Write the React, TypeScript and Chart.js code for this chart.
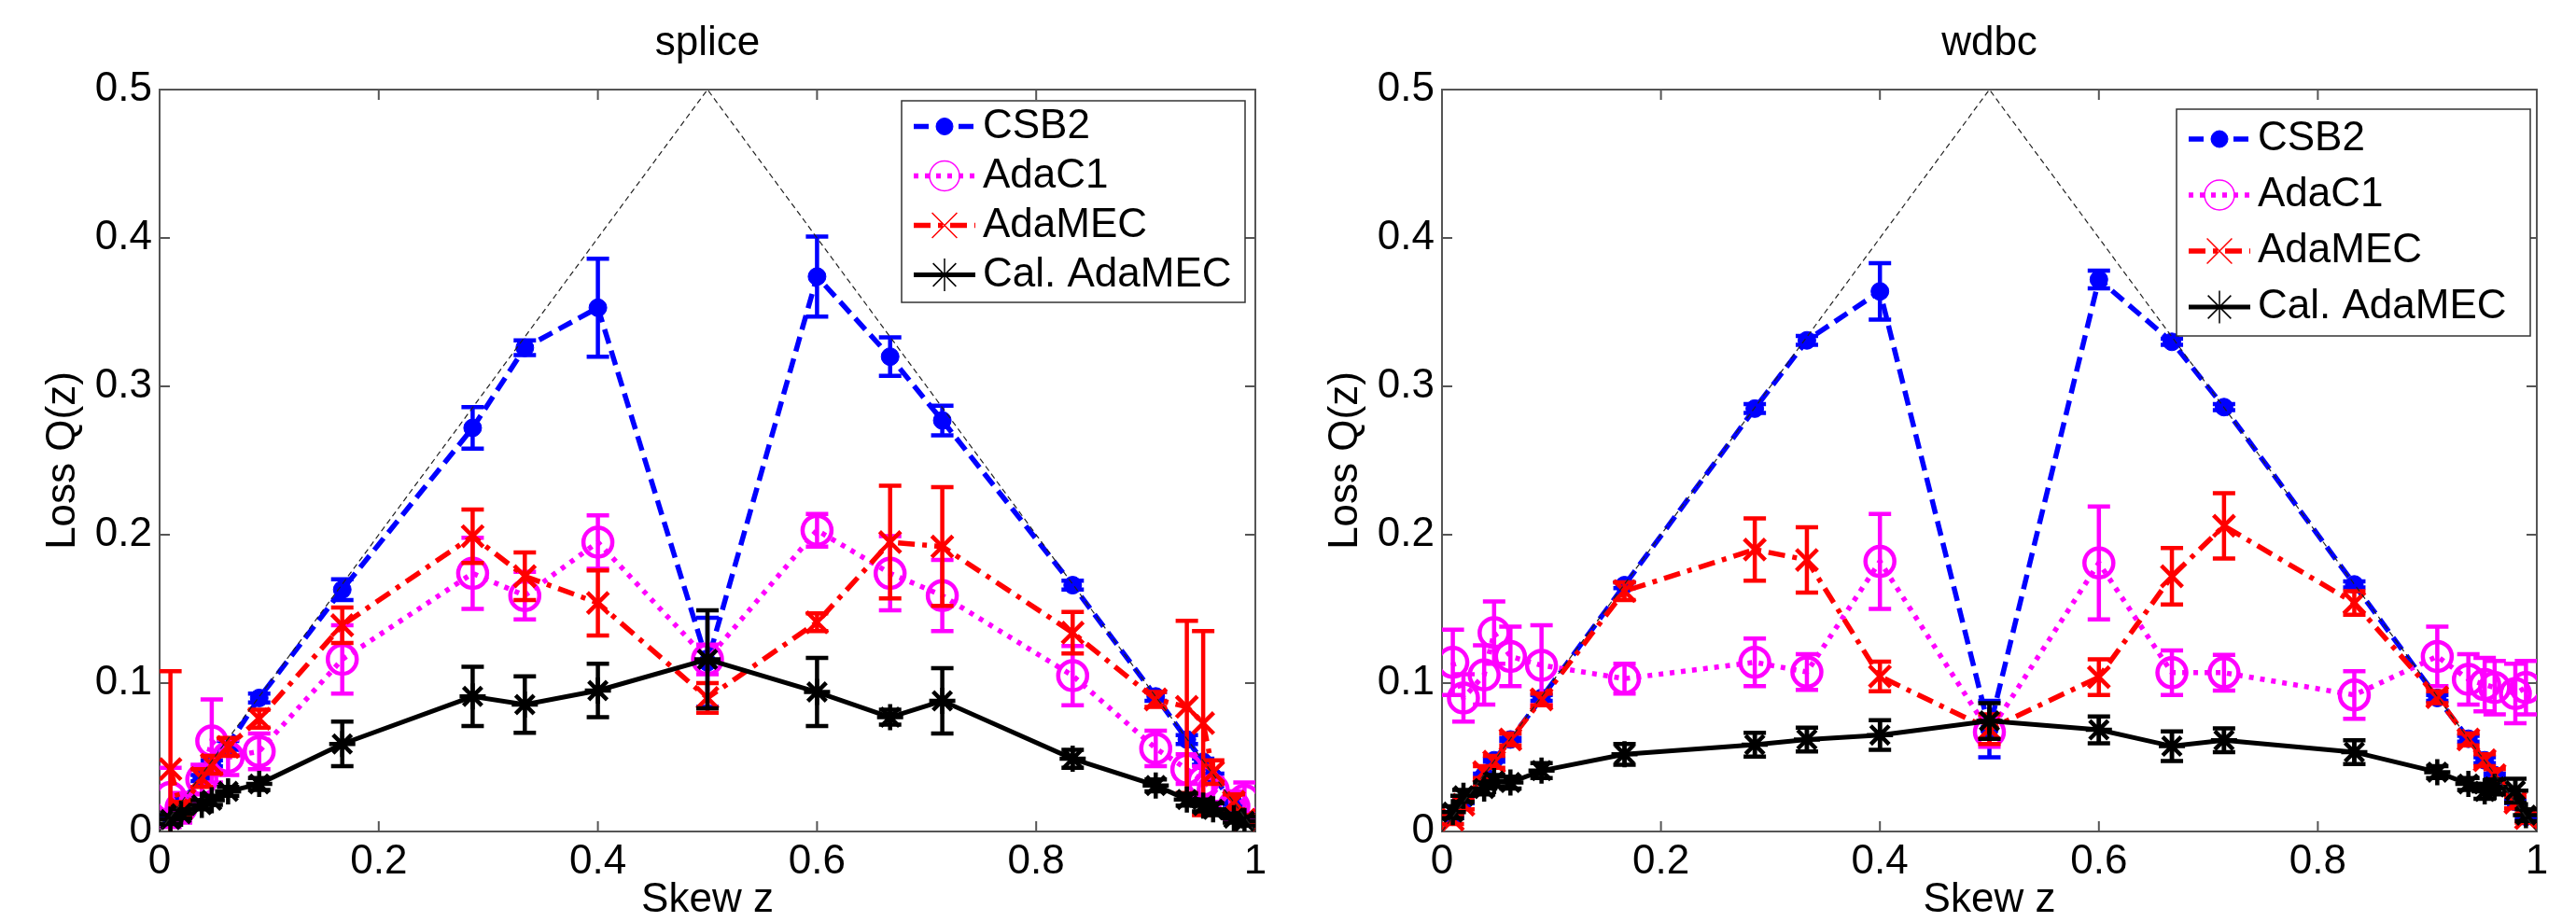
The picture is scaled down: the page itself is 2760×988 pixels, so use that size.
import React, { useEffect, useRef } from 'react';
import { Chart, registerables } from 'chart.js';

Chart.register(...registerables);

const FONT = "'Liberation Sans', Arial, Helvetica, sans-serif";
Chart.defaults.font.family = FONT;
Chart.defaults.color = '#000';

// ---------- data ----------
const skew = [0.0099, 0.0196, 0.0385, 0.0476, 0.0625, 0.0909, 0.1667, 0.2857, 0.3333, 0.4, 0.5,
  0.6, 0.6667, 0.7143, 0.8333, 0.9091, 0.9375, 0.9524, 0.9615, 0.9804, 0.9901];

const xTicks = [0, 0.2, 0.4, 0.6, 0.8, 1];
const xTickLabels = ['0', '0.2', '0.4', '0.6', '0.8', '1'];
const yTicks = [0, 0.1, 0.2, 0.3, 0.4, 0.5];
const yTickLabels = ['0', '0.1', '0.2', '0.3', '0.4', '0.5'];
const seriesNames = ['CSB2', 'AdaC1', 'AdaMEC', 'Cal. AdaMEC'];
const panelTitles = ['splice', 'wdbc'];
const xAxisTitle = 'Skew z';
const yAxisTitle = 'Loss Q(z)';
const refX = [0, 0.5, 1];
const refY = [0, 0.5, 0];

// splice
const spliceCSB2 = [0.010, 0.020, 0.036, 0.046, 0.058, 0.090, 0.163, 0.272, 0.326, 0.353, 0.114,
  0.374, 0.320, 0.277, 0.166, 0.091, 0.062, 0.047, 0.037, 0.019, 0.009];
const spliceCSB2Err = [0.001, 0.001, 0.002, 0.002, 0.003, 0.003, 0.007, 0.014, 0.005, 0.033, 0.030,
  0.027, 0.013, 0.010, 0.003, 0.003, 0.003, 0.002, 0.002, 0.001, 0.001];
const spliceAdaC1 = [0.023, 0.016, 0.035, 0.061, 0.050, 0.054, 0.116, 0.174, 0.159, 0.195, 0.116,
  0.203, 0.174, 0.159, 0.105, 0.056, 0.042, 0.034, 0.028, 0.017, 0.021];
const spliceAdaC1Err = [0.020, 0.010, 0.010, 0.028, 0.012, 0.012, 0.023, 0.024, 0.016, 0.018, 0.010,
  0.011, 0.025, 0.024, 0.020, 0.012, 0.010, 0.010, 0.008, 0.010, 0.012];
const spliceAdaMEC = [0.042, 0.015, 0.036, 0.045, 0.057, 0.076, 0.139, 0.199, 0.172, 0.154, 0.090,
  0.141, 0.195, 0.192, 0.134, 0.089, 0.084, 0.073, 0.040, 0.020, 0.008];
const spliceAdaMECErr = [0.066, 0.005, 0.006, 0.006, 0.006, 0.006, 0.012, 0.018, 0.016, 0.022, 0.010,
  0.006, 0.038, 0.040, 0.014, 0.005, 0.058, 0.062, 0.008, 0.005, 0.003];
const spliceCal = [0.008, 0.012, 0.018, 0.021, 0.027, 0.032, 0.059, 0.091, 0.0855, 0.095, 0.116,
  0.094, 0.077, 0.088, 0.049, 0.031, 0.0215, 0.0175, 0.015, 0.009, 0.007];
const spliceCalErr = [0.003, 0.003, 0.003, 0.003, 0.003, 0.004, 0.015, 0.020, 0.019, 0.018, 0.033,
  0.023, 0.005, 0.022, 0.006, 0.004, 0.004, 0.004, 0.004, 0.003, 0.003];

// wdbc
const wdbcCSB2 = [0.010, 0.020, 0.038, 0.048, 0.062, 0.090, 0.166, 0.285, 0.331, 0.364, 0.069,
  0.372, 0.330, 0.286, 0.1665, 0.090, 0.0625, 0.048, 0.038, 0.020, 0.010];
const wdbcCSB2Err = [0.001, 0.001, 0.001, 0.001, 0.001, 0.002, 0.002, 0.003, 0.003, 0.019, 0.019,
  0.006, 0.002, 0.002, 0.002, 0.002, 0.002, 0.002, 0.001, 0.001, 0.001];
const wdbcAdaC1 = [0.114, 0.090, 0.1055, 0.134, 0.118, 0.112, 0.103, 0.114, 0.1075, 0.182, 0.067,
  0.181, 0.107, 0.107, 0.092, 0.118, 0.1025, 0.099, 0.097, 0.093, 0.097];
const wdbcAdaC1Err = [0.022, 0.016, 0.020, 0.021, 0.020, 0.027, 0.010, 0.016, 0.012, 0.032, 0.010,
  0.038, 0.015, 0.012, 0.016, 0.020, 0.017, 0.018, 0.018, 0.020, 0.018];
const wdbcAdaMEC = [0.008, 0.018, 0.040, 0.047, 0.062, 0.089, 0.162, 0.190, 0.183, 0.1045, 0.069,
  0.104, 0.172, 0.206, 0.154, 0.0905, 0.062, 0.048, 0.038, 0.0195, 0.009];
const wdbcAdaMECErr = [0.003, 0.003, 0.004, 0.004, 0.004, 0.004, 0.006, 0.021, 0.022, 0.010, 0.010,
  0.012, 0.019, 0.022, 0.008, 0.004, 0.004, 0.004, 0.004, 0.004, 0.003];
const wdbcCal = [0.013, 0.024, 0.029, 0.034, 0.033, 0.041, 0.052, 0.0585, 0.062, 0.065, 0.0745,
  0.0685, 0.0575, 0.0615, 0.0535, 0.040, 0.032, 0.027, 0.030, 0.0275, 0.011];
const wdbcCalErr = [0.004, 0.004, 0.004, 0.004, 0.004, 0.005, 0.007, 0.008, 0.008, 0.010, 0.012,
  0.009, 0.010, 0.008, 0.008, 0.004, 0.004, 0.005, 0.005, 0.008, 0.004];

// ---------- styles ----------
const seriesStyles = [
  { color: '#0000ff', width: 5.5, dash: [16, 8], pointStyle: 'circle', radius: 9.5, pbw: 1, filled: true, legendR: 9, legendW: 1 },
  { color: '#ff00ff', width: 5.5, dash: [5, 7], pointStyle: 'circle', radius: 15.5, pbw: 4.5, filled: false, legendR: 16, legendW: 1.5 },
  { color: '#ff0000', width: 5.5, dash: [18, 8, 5, 8], pointStyle: 'crossRot', radius: 16, pbw: 4.5, filled: false, legendR: 19, legendW: 1.5 },
  { color: '#000000', width: 5, dash: [], pointStyle: 'star', radius: 14, pbw: 4.5, filled: false, legendR: 17.5, legendW: 1.5 },
];

const panels = [
  {
    title: panelTitles[0],
    values: [spliceCSB2, spliceAdaC1, spliceAdaMEC, spliceCal],
    errors: [spliceCSB2Err, spliceAdaC1Err, spliceAdaMECErr, spliceCalErr],
    yWidth: 171, padRight: 35, yTitlePad: 46,
    legend: { inset: 11, top: 12, width: 368, height: 216, rowStart: 27.5, rowGap: 53 },
  },
  {
    title: panelTitles[1],
    values: [wdbcCSB2, wdbcAdaC1, wdbcAdaMEC, wdbcCal],
    errors: [wdbcCSB2Err, wdbcAdaC1Err, wdbcAdaMECErr, wdbcCalErr],
    yWidth: 165, padRight: 42, yTitlePad: 40,
    legend: { inset: 7, top: 21, width: 379, height: 243, rowStart: 32, rowGap: 60 },
  },
];

// ---------- plugins ----------
const frameTicks = {
  id: 'frameTicks',
  beforeDatasetsDraw(chart: any) {
    const { ctx, chartArea: a, scales } = chart;
    ctx.save();
    ctx.strokeStyle = '#555555';
    ctx.lineWidth = 2;
    ctx.setLineDash([]);
    ctx.strokeRect(a.left, a.top, a.right - a.left, a.bottom - a.top);
    const tl = 11;
    ctx.beginPath();
    xTicks.forEach((v) => {
      const px = scales.x.getPixelForValue(v);
      ctx.moveTo(px, a.bottom); ctx.lineTo(px, a.bottom - tl);
      ctx.moveTo(px, a.top); ctx.lineTo(px, a.top + tl);
    });
    yTicks.forEach((v) => {
      const py = scales.y.getPixelForValue(v);
      ctx.moveTo(a.left, py); ctx.lineTo(a.left + tl, py);
      ctx.moveTo(a.right, py); ctx.lineTo(a.right - tl, py);
    });
    ctx.stroke();
    ctx.restore();
  },
};

const errorBars = {
  id: 'errorBars',
  beforeDatasetDraw(chart: any, args: any) {
    const ds: any = chart.data.datasets[args.index];
    if (!ds.errors) return;
    const { ctx, chartArea: a, scales } = chart;
    const cap = 12;
    ctx.save();
    ctx.beginPath();
    ctx.rect(a.left, a.top, a.right - a.left, a.bottom - a.top);
    ctx.clip();
    ctx.strokeStyle = ds.borderColor;
    ctx.lineWidth = 4.5;
    ctx.setLineDash([]);
    ds.data.forEach((p: any, i: number) => {
      const e = ds.errors[i];
      const px = scales.x.getPixelForValue(p.x);
      const yHi = scales.y.getPixelForValue(p.y + e);
      const yLo = scales.y.getPixelForValue(p.y - e);
      ctx.beginPath();
      ctx.moveTo(px, yLo); ctx.lineTo(px, yHi);
      ctx.moveTo(px - cap, yHi); ctx.lineTo(px + cap, yHi);
      ctx.moveTo(px - cap, yLo); ctx.lineTo(px + cap, yLo);
      ctx.stroke();
    });
    ctx.restore();
  },
};

function drawMarker(ctx: CanvasRenderingContext2D, st: any, cx: number, cy: number) {
  const r = st.legendR;
  ctx.save();
  ctx.setLineDash([]);
  ctx.strokeStyle = st.color;
  ctx.fillStyle = st.color;
  ctx.lineWidth = st.legendW;
  ctx.beginPath();
  if (st.pointStyle === 'circle') {
    ctx.arc(cx, cy, r, 0, Math.PI * 2);
    if (st.filled) ctx.fill();
    ctx.stroke();
  } else {
    const d = r * Math.SQRT1_2;
    ctx.moveTo(cx - d, cy - d); ctx.lineTo(cx + d, cy + d);
    ctx.moveTo(cx - d, cy + d); ctx.lineTo(cx + d, cy - d);
    if (st.pointStyle === 'star') {
      ctx.moveTo(cx, cy - r); ctx.lineTo(cx, cy + r);
      ctx.moveTo(cx - r, cy); ctx.lineTo(cx + r, cy);
    }
    ctx.stroke();
  }
  ctx.restore();
}

function makeLegend(cfg: any) {
  return {
    id: 'matLegend',
    afterDraw(chart: any) {
      const { ctx, chartArea: a } = chart;
      const right = a.right - cfg.inset;
      const left = right - cfg.width;
      const top = a.top + cfg.top;
      ctx.save();
      ctx.fillStyle = '#ffffff';
      ctx.fillRect(left, top, cfg.width, cfg.height);
      ctx.strokeStyle = '#333333';
      ctx.lineWidth = 1.5;
      ctx.setLineDash([]);
      ctx.strokeRect(left, top, cfg.width, cfg.height);
      seriesNames.forEach((name, k) => {
        const st = seriesStyles[k];
        const cy = top + cfg.rowStart + k * cfg.rowGap;
        const x0 = left + 13;
        const x1 = x0 + 66;
        ctx.save();
        ctx.strokeStyle = st.color;
        ctx.lineWidth = st.width;
        ctx.setLineDash(st.dash);
        ctx.beginPath();
        ctx.moveTo(x0, cy); ctx.lineTo(x1, cy);
        ctx.stroke();
        ctx.restore();
        drawMarker(ctx, st, (x0 + x1) / 2, cy);
        ctx.fillStyle = '#000';
        ctx.font = `44px ${FONT}`;
        ctx.textAlign = 'left';
        ctx.textBaseline = 'middle';
        ctx.fillText(name, x1 + 8, cy);
      });
      ctx.restore();
    },
  };
}

function makeConfig(panel: any): any {
  const datasets: any[] = seriesNames.map((name, k) => {
    const st = seriesStyles[k];
    return {
      label: name,
      data: skew.map((x, i) => ({ x, y: panel.values[k][i] })),
      errors: panel.errors[k],
      borderColor: st.color,
      backgroundColor: st.color,
      borderWidth: st.width,
      borderDash: st.dash,
      pointStyle: st.pointStyle,
      pointRadius: st.radius,
      pointBorderWidth: st.pbw,
      pointBackgroundColor: st.filled ? st.color : 'rgba(0,0,0,0)',
      pointBorderColor: st.color,
      fill: false,
      tension: 0,
      showLine: true,
      order: 4 - k,
    };
  });
  datasets.push({
    label: 'reference',
    data: refX.map((x, i) => ({ x, y: refY[i] })),
    borderColor: '#222222',
    borderWidth: 1.2,
    borderDash: [6, 4],
    pointRadius: 0,
    fill: false,
    tension: 0,
    showLine: true,
    order: 0,
  });

  return {
    type: 'line',
    data: { datasets },
    options: {
      animation: false,
      responsive: false,
      devicePixelRatio: 1,
      layout: { padding: { left: 0, right: panel.padRight, top: 0, bottom: 0 } },
      plugins: {
        legend: { display: false },
        tooltip: { enabled: false },
        title: {
          display: true,
          text: panel.title,
          fullSize: false,
          color: '#000',
          font: { size: 44, weight: 'normal', lineHeight: 1, family: FONT },
          padding: { top: 25, bottom: 27 },
        },
      },
      scales: {
        x: {
          type: 'linear',
          min: 0,
          max: 1,
          afterBuildTicks: (s: any) => { s.ticks = xTicks.map((v) => ({ value: v })); },
          afterFit: (s: any) => { s.height = 97; },
          grid: { display: false, drawTicks: false },
          border: { display: false },
          ticks: {
            color: '#000',
            font: { size: 44, family: FONT },
            padding: 6,
            maxRotation: 0,
            autoSkip: false,
            callback: (_v: any, i: number) => xTickLabels[i],
          },
          title: {
            display: true,
            text: xAxisTitle,
            color: '#000',
            font: { size: 44, lineHeight: 1, family: FONT },
            padding: { top: 0, bottom: 1 },
          },
        },
        y: {
          type: 'linear',
          min: 0,
          max: 0.5,
          afterBuildTicks: (s: any) => { s.ticks = yTicks.map((v) => ({ value: v })); },
          afterFit: (s: any) => { s.width = panel.yWidth; },
          grid: { display: false, drawTicks: false },
          border: { display: false },
          ticks: {
            color: '#000',
            font: { size: 44, family: FONT },
            padding: 8,
            autoSkip: false,
            callback: (_v: any, i: number) => yTickLabels[i],
          },
          title: {
            display: true,
            text: yAxisTitle,
            color: '#000',
            font: { size: 44, lineHeight: 1, family: FONT },
            padding: { top: panel.yTitlePad, bottom: 0 },
          },
        },
      },
    },
    plugins: [frameTicks, errorBars, makeLegend(panel.legend)],
  };
}

export default function App() {
  const leftRef = useRef<HTMLCanvasElement>(null);
  const rightRef = useRef<HTMLCanvasElement>(null);

  useEffect(() => {
    const c1 = new Chart(leftRef.current as HTMLCanvasElement, makeConfig(panels[0]));
    const c2 = new Chart(rightRef.current as HTMLCanvasElement, makeConfig(panels[1]));
    return () => {
      c1.destroy();
      c2.destroy();
    };
  }, []);

  return (
    <div style={{ position: 'absolute', left: 0, top: 0, width: 2760, height: 988, background: '#ffffff' }}>
      <canvas ref={leftRef} width={1380} height={988}
        style={{ position: 'absolute', left: 0, top: 0, width: 1380, height: 988 }} />
      <canvas ref={rightRef} width={1380} height={988}
        style={{ position: 'absolute', left: 1380, top: 0, width: 1380, height: 988 }} />
    </div>
  );
}
